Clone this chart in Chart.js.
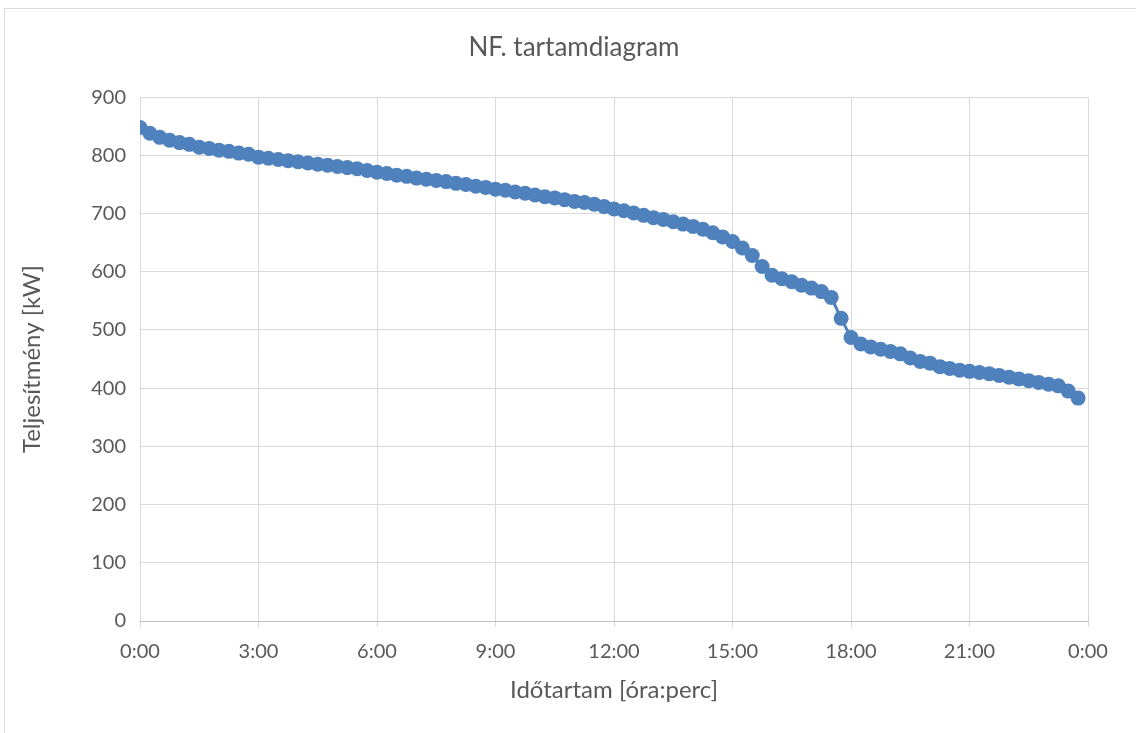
<!DOCTYPE html>
<html>
<head>
<meta charset="utf-8">
<script src="https://cdn.jsdelivr.net/npm/chart.js@4/dist/chart.umd.min.js"></script>
<style>
  html, body { margin: 0; padding: 0; background: #fff; overflow: hidden; }
  #wrap { position: relative; width: 1136px; height: 733px; }
  #frame { position: absolute; left: 4px; top: 8px; width: 1160px; height: 760px; border: 1px solid #d9d9d9; box-sizing: border-box; }
  #c { position: absolute; left: 0; top: 0; }
</style>
</head>
<body>
<div id="wrap">
  <div id="frame"></div>
  <canvas id="c" width="1136" height="733"></canvas>
</div>
<script>
// Load duration curve: power sorted in descending order, one sample every 15 minutes
const STEP_MIN = 15;
const power = [
  848, 838, 831, 826, 822, 819, 814, 812, 809, 807, 804, 802,
  797, 795, 793, 791, 789, 787, 785, 783, 781, 779, 777, 774,
  771, 769, 766, 764, 761, 759, 757, 755, 752, 750, 747, 745,
  742, 740, 737, 735, 732, 729, 727, 724, 721, 719, 716, 712,
  708, 705, 701, 697, 693, 690, 686, 682, 678, 673, 667, 660,
  652, 641, 628, 609, 594, 588, 583, 577, 572, 566, 556, 520,
  487, 476, 471, 467, 463, 459, 452, 446, 443, 437, 434, 431,
  429, 427, 425, 422, 419, 416, 413, 410, 407, 404, 395, 383
];
const minutes = power.map((_, i) => i * STEP_MIN);
const xTickStep = 180;   // minutes between x labels
const yTicks = [0, 100, 200, 300, 400, 500, 600, 700, 800, 900];

const title = 'NF. tartamdiagram';
const xTitle = 'Időtartam [óra:perc]';
const yTitle = 'Teljesítmény [kW]';

const fmt = m => {
  const h = Math.floor(m / 60) % 24;
  const mm = m % 60;
  return h + ':' + String(mm).padStart(2, '0');
};

const textColor = '#595959';
const gridColor = '#d9d9d9';
const blue = '#4f81bd';
const FONT = 'Lato, "Open Sans", sans-serif';

new Chart(document.getElementById('c'), {
  type: 'line',
  data: {
    datasets: [{
      data: minutes.map((m, i) => ({ x: m, y: power[i] })),
      borderColor: blue,
      backgroundColor: blue,
      borderWidth: 3,
      pointRadius: 7.5,
      pointHoverRadius: 7.5,
      pointBorderWidth: 0,
      tension: 0
    }]
  },
  options: {
    responsive: false,
    animation: false,
    layout: { padding: { left: 12, right: 0, top: 0, bottom: 0 } },
    plugins: {
      legend: { display: false },
      tooltip: { enabled: false },
      title: {
        display: true,
        text: title,
        color: textColor,
        font: { family: FONT, size: 26, weight: 'normal' },
        padding: { top: 32, bottom: 34 }
      }
    },
    scales: {
      x: {
        type: 'linear',
        min: 0,
        max: 1440,
        afterBuildTicks: s => { s.ticks = []; for (let v = 0; v <= 1440; v += xTickStep) s.ticks.push({ value: v }); },
        afterFit: s => { s.height = 112; },
        ticks: {
          callback: v => fmt(v),
          color: textColor,
          font: { family: FONT, size: 20 },
          padding: 13,
          maxRotation: 0
        },
        grid: { color: gridColor, lineWidth: 1, tickLength: 6, drawTicks: true },
        border: { color: '#bfbfbf', width: 1 },
        title: {
          display: true,
          text: xTitle,
          color: textColor,
          font: { family: FONT, size: 24 },
          padding: { top: 0, bottom: 28 }
        }
      },
      y: {
        min: 0,
        max: 900,
        afterBuildTicks: s => { s.ticks = yTicks.map(v => ({ value: v })); },
        afterFit: s => { s.width = 128; },
        ticks: {
          color: textColor,
          font: { family: FONT, size: 20 },
          padding: 14
        },
        grid: { color: gridColor, lineWidth: 1, drawTicks: false },
        border: { display: false },
        title: {
          display: true,
          text: yTitle,
          color: textColor,
          font: { family: FONT, size: 24 },
          padding: { top: 6, bottom: 0 }
        }
      },
      // empty right-hand gutter so the plot ends where the frame content does
      gutter: {
        position: 'right',
        display: true,
        min: 0,
        max: 1,
        afterFit: s => { s.width = 48; },
        ticks: { display: false },
        grid: { display: false },
        border: { display: false }
      }
    }
  }
});
</script>
</body>
</html>
